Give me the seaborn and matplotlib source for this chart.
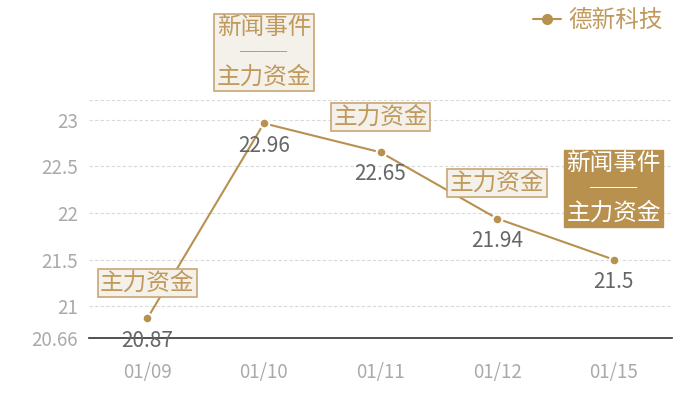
import matplotlib
matplotlib.use("Agg")
import matplotlib.pyplot as plt
from matplotlib.lines import Line2D
import seaborn as sns
import pandas as pd

dates = ["01/09", "01/10", "01/11", "01/12", "01/15"]
prices = [20.87, 22.96, 22.65, 21.94, 21.5]
events = ["主力资金", "新闻事件\n──\n主力资金", "主力资金", "主力资金", "新闻事件\n──\n主力资金"]
highlight = [False, False, False, False, True]
series_name = "德新科技"
y_ticks = [20.66, 21, 21.5, 22, 22.5, 23]
y_min, y_max = 20.66, 23.21

sns.set_theme(style="white")
plt.rcParams["font.family"] = ["Noto Sans CJK SC", "DejaVu Sans"]

GOLD = "#b8914f"
GOLD_TEXT = "#c09a5c"
LIGHT_FILL = "#f4f0ea"
LIGHT_EDGE = "#c8a674"

df = pd.DataFrame({"date": dates, "price": prices, "name": series_name})

fig = plt.figure(figsize=(7, 4), dpi=100)
ax = fig.add_axes([89 / 700, 1 - 338 / 400, (672 - 89) / 700, (338 - 100) / 400])

sns.lineplot(data=df, x="date", y="price", ax=ax, color=GOLD, linewidth=1.5,
             marker="o", markersize=7, markeredgecolor="white", markeredgewidth=1.5,
             sort=False, legend=False)

ax.set_xlim(-0.5, len(dates) - 0.5)
ax.set_ylim(y_min, y_max)
ax.set_yticks(y_ticks + [y_max])
ax.set_yticklabels([f"{v:g}" for v in y_ticks] + [""])
ax.set_xlabel("")
ax.set_ylabel("")

for v in y_ticks[1:] + [y_max]:
    ax.axhline(v, color="#d9d9d9", linewidth=0.8, linestyle=(0, (3, 2)), zorder=0)

for s in ["top", "right", "left"]:
    ax.spines[s].set_visible(False)
ax.spines["bottom"].set_color("#333333")
ax.spines["bottom"].set_linewidth(1.2)
ax.tick_params(axis="both", length=0, colors="#aaaaaa", labelsize=13.5)
ax.tick_params(axis="x", pad=17)
ax.tick_params(axis="y", pad=8)

for i, (d, p, ev, hl) in enumerate(zip(dates, prices, events, highlight)):
    ax.annotate(f"{p:g}", xy=(i, p), xytext=(0, -16), textcoords="offset points",
                ha="center", va="center", fontsize=15, color="#666666", zorder=5)
    multi = "\n" in ev
    off = 51 if multi else 25.5
    if hl:
        bbox = dict(boxstyle="square,pad=0.1", fc=GOLD, ec=GOLD, lw=1)
        tc = "white"
    else:
        bbox = dict(boxstyle="square,pad=0.1", fc=LIGHT_FILL, ec=LIGHT_EDGE, lw=1.2)
        tc = GOLD_TEXT
    ax.annotate(ev, xy=(i, p), xytext=(0, off), textcoords="offset points",
                ha="center", va="center", fontsize=17, color=tc, bbox=bbox,
                linespacing=1.1, zorder=6, annotation_clip=False)

handle = Line2D([], [], color=GOLD, linewidth=1.5, marker="o", markersize=7,
                markeredgecolor=GOLD)
leg = fig.legend(handles=[handle], labels=[series_name], loc="upper right",
                 bbox_to_anchor=(0.967, 1.012), frameon=False, fontsize=17,
                 handlelength=1.2, handletextpad=0.3, borderaxespad=0.2)
for t in leg.get_texts():
    t.set_color(GOLD_TEXT)

fig.savefig("out.png", dpi=100)
